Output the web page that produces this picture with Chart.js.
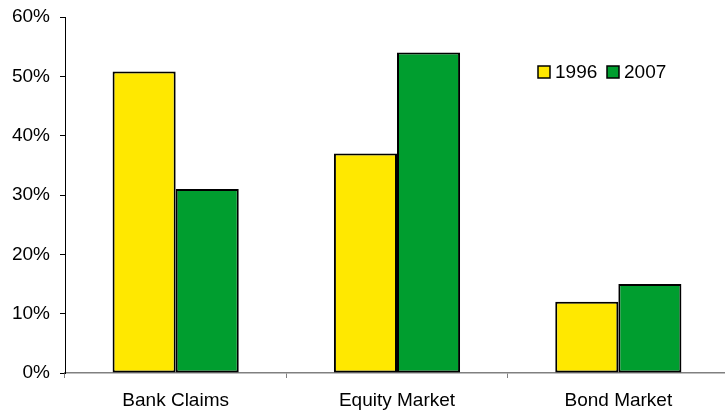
<!DOCTYPE html>
<html>
<head>
<meta charset="utf-8">
<script src="https://cdn.jsdelivr.net/npm/chart.js@4"></script>
<style>
html,body{margin:0;padding:0;background:#fff;overflow:hidden;}
#wrap{width:725px;height:411px;position:relative;overflow:hidden;}
</style>
</head>
<body>
<div id="wrap"><canvas id="c" width="729" height="411"></canvas></div>
<script>
const categories = ["Bank Claims", "Equity Market", "Bond Market"];
const seriesNames = ["1996", "2007"];
const values1996 = [50.8, 37, 12];
const values2007 = [31, 54, 15];
const yTicks = [0, 10, 20, 30, 40, 50, 60];
const colors = ["#FFE800", "#009E2F"];

const FONT = '"Liberation Sans", Arial, sans-serif';

const legendPlugin = {
  id: 'customLegend',
  afterDraw(chart) {
    const ctx = chart.ctx;
    ctx.save();
    const items = chart.data.datasets;
    const xs = [538, 607];
    const y = 66;
    ctx.font = '19px ' + FONT;
    ctx.textBaseline = 'middle';
    items.forEach((ds, i) => {
      ctx.fillStyle = ds.backgroundColor;
      ctx.fillRect(xs[i], y, 12, 12);
      ctx.strokeStyle = '#000';
      ctx.lineWidth = 1.5;
      ctx.strokeRect(xs[i], y, 12, 12);
      ctx.fillStyle = '#000';
      ctx.fillText(ds.label, xs[i] + 17, y + 6.5);
    });
    ctx.restore();
  }
};

new Chart(document.getElementById('c'), {
  type: 'bar',
  data: {
    labels: categories,
    datasets: [
      { label: seriesNames[0], data: values1996, backgroundColor: colors[0], borderColor: '#000', borderWidth: 2, borderSkipped: false },
      { label: seriesNames[1], data: values2007, backgroundColor: colors[1], borderColor: '#000', borderWidth: 2, borderSkipped: false }
    ]
  },
  options: {
    responsive: false,
    animation: false,
    layout: { padding: { top: 17, left: 0, right: 0, bottom: 0 } },
    plugins: { legend: { display: false }, tooltip: { enabled: false } },
    datasets: { bar: { barPercentage: 1.0, categoryPercentage: 0.57 } },
    scales: {
      x: {
        grid: { display: true, drawOnChartArea: false, offset: true, color: '#808080', tickLength: 5, lineWidth: 1 },
        border: { display: true, color: '#808080', width: 1.5 },
        ticks: { color: '#000', font: { family: FONT, size: 19 }, padding: 11 },
        afterFit(scale) { scale.height = 38; scale.paddingLeft = 0; scale.paddingRight = 0; }
      },
      y: {
        min: 0, max: 60,
        afterBuildTicks(scale) { scale.ticks = yTicks.map(v => ({ value: v })); },
        grid: { display: true, drawOnChartArea: false, color: '#000', tickLength: 5 },
        border: { display: true, color: '#000', width: 1 },
        ticks: { color: '#000', font: { family: FONT, size: 19 }, padding: 10,
          callback: v => v + '%' },
        afterFit(scale) { scale.width = 65; scale.paddingTop = 0; scale.paddingBottom = 0; }
      }
    }
  },
  plugins: [legendPlugin]
});
</script>
</body>
</html>
